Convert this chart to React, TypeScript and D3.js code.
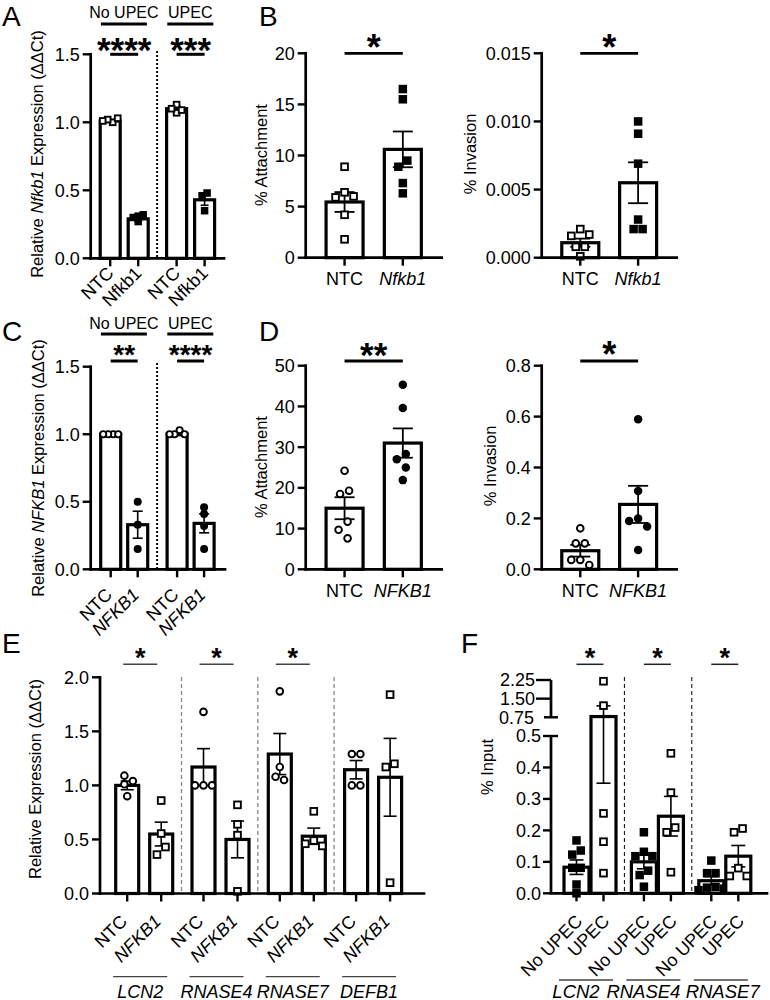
import React from "react";
import * as d3 from "d3";

const FONT = "'Liberation Sans', Arial, Helvetica, sans-serif";

// ---- panel A : Nfkb1 knockdown (mouse) ----
const aGroups = ["No UPEC", "UPEC"];
const aConds = ["NTC", "Nfkb1"];
const aPoints = [
  [1.0, 1.02, 1.03, 1.01],
  [0.27, 0.3, 0.31, 0.32],
  [1.13, 1.07, 1.1, 1.09],
  [0.48, 0.46, 0.35],
];
const aMean = [1.01, 0.29, 1.1, 0.43];
const aSem = [0.01, 0.015, 0.02, 0.04];
const aStars = ["****", "***"];

// ---- panel B : attachment / invasion (mouse) ----
const bConds = ["NTC", "Nfkb1"];
const bAttach = [
  [8.9, 6.4, 5.9, 6.0, 4.2, 1.8],
  [16.5, 15.5, 9.5, 8.9, 7.3, 6.3],
];
const bAttachMean = [5.45, 10.6];
const bAttachSem = [0.97, 1.75];
const bInv = [
  [0.0021, 0.0016, 0.0017, 0.0008, 0.0008, 0.0001],
  [0.01, 0.0091, 0.0069, 0.0028, 0.0021, 0.0021],
];
const bInvMean = [0.0011, 0.0055];
const bInvSem = [0.0003, 0.0015];

// ---- panel C : NFKB1 knockdown (human) ----
const cGroups = ["No UPEC", "UPEC"];
const cConds = ["NTC", "NFKB1"];
const cPoints = [
  [1.0, 1.0, 1.0, 1.0],
  [0.5, 0.33, 0.15],
  [1.03, 1.0, 1.0, 1.0],
  [0.46, 0.41, 0.32, 0.15],
];
const cMean = [1.0, 0.33, 1.0, 0.34];
const cSem = [0.003, 0.1, 0.01, 0.07];
const cStars = ["**", "****"];

// ---- panel D ----
const dConds = ["NTC", "NFKB1"];
const dAttach = [
  [24.2, 19.3, 18.5, 11.7, 9.7, 7.6],
  [45.3, 39.6, 28.3, 27.0, 25.0, 21.9],
];
const dAttachMean = [15.0, 31.0];
const dAttachSem = [2.7, 3.6];
const dInv = [
  [0.161, 0.102, 0.102, 0.037, 0.037, 0.017],
  [0.59, 0.308, 0.2, 0.19, 0.168, 0.076],
];
const dInvMean = [0.073, 0.255];
const dInvSem = [0.023, 0.073];

// ---- panel E : target genes ----
const eGenes = ["LCN2", "RNASE4", "RNASE7", "DEFB1"];
const eConds = ["NTC", "NFKB1"];
const ePoints = [
  [1.04, 1.09, 0.9, 1.01],
  [0.86, 0.555, 0.43, 0.36],
  [1.68, 1.0, 1.0, 1.0],
  [0.82, 0.64, 0.54, 0.02],
  [1.87, 1.17, 1.05, 1.08],
  [0.76, 0.49, 0.46, 0.44],
  [1.29, 1.29, 1.0, 1.0],
  [1.84, 1.2, 1.17, 0.1],
];
const eMean = [1.0, 0.55, 1.17, 0.5, 1.29, 0.53, 1.145, 1.075];
const eSem = [0.04, 0.11, 0.17, 0.17, 0.19, 0.075, 0.085, 0.36];
const eStars = ["*", "*", "*", ""];

// ---- panel F : ChIP % input ----
const fGenes = ["LCN2", "RNASE4", "RNASE7"];
const fConds = ["No UPEC", "UPEC"];
const fPoints = [
  [0.168, 0.136, 0.123, 0.081, 0.081, 0.028, 0.0],
  [2.2, 1.22, 0.254, 0.164, 0.064],
  [0.194, 0.132, 0.118, 0.118, 0.072, 0.058, 0.021],
  [0.445, 0.32, 0.209, 0.194, 0.067],
  [0.104, 0.064, 0.064, 0.02, 0.018, 0.015, 0.01],
  [0.206, 0.194, 0.08, 0.055, 0.055],
];
const fMean = [0.083, 0.78, 0.1, 0.245, 0.04, 0.118];
const fSem = [0.023, 0.43, 0.022, 0.063, 0.013, 0.034];
const fLowTicks = [0, 0.1, 0.2, 0.3, 0.4, 0.5];
const fHighTicks = [0.75, 1.5, 2.25];

const TICK_FS = 18;
const LAB_FS = 18;

// simple beeswarm: spread overlapping points sideways, then centre each row
function swarm(vals, y, d) {
  const py = vals.map(y);
  const off = [];
  vals.forEach((v, i) => {
    const cands = [0, -d, d, -2 * d, 2 * d, -3 * d, 3 * d];
    let pick = cands[cands.length - 1];
    for (const c of cands) {
      let ok = true;
      for (let j = 0; j < i; j++) {
        const dx = c - off[j], dy = py[i] - py[j];
        if (dx * dx + dy * dy < d * d * 0.95) { ok = false; break; }
      }
      if (ok) { pick = c; break; }
    }
    off.push(pick);
  });
  const root = vals.map((_, i) => i);
  const find = (i) => (root[i] === i ? i : (root[i] = find(root[i])));
  for (let i = 0; i < vals.length; i++)
    for (let j = i + 1; j < vals.length; j++)
      if (Math.abs(py[i] - py[j]) < d) root[find(i)] = find(j);
  const groups = d3.group(vals.map((_, i) => i), (i) => find(i));
  groups.forEach((idx) => {
    const m = d3.mean(idx, (i) => off[i]);
    idx.forEach((i) => (off[i] -= m));
  });
  return off;
}

// push labels right so they do not run into each other
function dodge(centers, labels, fs, gap) {
  const out = [];
  centers.forEach((c, i) => {
    const w = labels[i].length * 0.66 * fs;
    let x = c;
    if (i > 0) {
      const prevW = labels[i - 1].length * 0.66 * fs;
      const minX = out[i - 1] + prevW / 2 + gap + w / 2;
      if (x < minX) x = minX;
    }
    out.push(x);
  });
  return out;
}

function Marker({ x, y, k, s }) {
  const filled = k[2] === "f";
  if (k[0] === "s") {
    const w = filled ? s : s - 1.8;
    return <rect x={x - w / 2} y={y - w / 2} width={w} height={w} fill={filled ? "#000" : "#fff"} stroke="#000" strokeWidth={filled ? 0 : 1.9} />;
  }
  const r = filled ? s / 2 : (s - 1.8) / 2;
  return <circle cx={x} cy={y} r={r} fill={filled ? "#000" : "#fff"} stroke="#000" strokeWidth={filled ? 0 : 1.9} />;
}

function Bars({ cx, y, mean, sem, pts, mk, bw, cap, ms, d, ew = 1.6 }) {
  const y0 = y(0);
  return (
    <g>
      {cx.map((c, i) => {
        const off = swarm(pts[i], y, d);
        const yt = y(mean[i] + sem[i]), yb = y(Math.max(0, mean[i] - sem[i]));
        return (
          <g key={i}>
            <rect x={c - bw / 2} y={y(mean[i])} width={bw} height={y0 - y(mean[i])} fill="#fff" stroke="#000" strokeWidth={3.2} />
            <line x1={c} x2={c} y1={yt} y2={yb} stroke="#000" strokeWidth={ew} />
            <line x1={c - cap / 2} x2={c + cap / 2} y1={yt} y2={yt} stroke="#000" strokeWidth={ew} />
            <line x1={c - cap / 2} x2={c + cap / 2} y1={yb} y2={yb} stroke="#000" strokeWidth={ew} />
            {pts[i].map((v, j) => (
              <Marker key={j} x={c + off[j]} y={y(v)} k={mk[i]} s={ms} />
            ))}
          </g>
        );
      })}
    </g>
  );
}

function YAxis({ x, y, ticks, fmt, fs = TICK_FS }) {
  const ys = ticks.map(y);
  return (
    <g>
      <line x1={x} x2={x} y1={d3.max(ys)} y2={d3.min(ys)} stroke="#000" strokeWidth={2.7} strokeLinecap="square" />
      {ticks.map((t, i) => (
        <g key={i}>
          <line x1={x - 8} x2={x} y1={ys[i]} y2={ys[i]} stroke="#000" strokeWidth={2.4} />
          <text x={x - 11} y={ys[i]} dy="0.36em" textAnchor="end" fontSize={fs}>{fmt(t)}</text>
        </g>
      ))}
    </g>
  );
}

function XAxis({ x0, x1, y0, ticks }) {
  return (
    <g>
      <line x1={x0} x2={x1} y1={y0} y2={y0} stroke="#000" strokeWidth={2.7} strokeLinecap="square" />
      {ticks.map((c, i) => (
        <line key={i} x1={c} x2={c} y1={y0} y2={y0 + 8} stroke="#000" strokeWidth={2.4} />
      ))}
    </g>
  );
}

function Sig({ x1, x2, y, sy, label, fs, sw = 2.8, color = "#000" }) {
  return (
    <g>
      <line x1={x1} x2={x2} y1={y} y2={y} stroke={color} strokeWidth={sw} />
      <text x={(x1 + x2) / 2} y={sy + 0.57 * fs} textAnchor="middle" fontSize={fs} fontWeight="bold">{label}</text>
    </g>
  );
}

function RotLabel({ x, y, text, italic = false, fs = LAB_FS }) {
  return (
    <text transform={`translate(${x},${y}) rotate(-45)`} textAnchor="end" fontSize={fs} fontStyle={italic ? "italic" : "normal"}>{text}</text>
  );
}

function YLabel({ x, y, children, fs = 16.5 }) {
  return (
    <text transform={`translate(${x},${y}) rotate(-90)`} textAnchor="middle" fontSize={fs}>{children}</text>
  );
}

function Letter({ x, y, t }) {
  return <text x={x} y={y} fontSize={28}>{t}</text>;
}

export default function App() {
  const f1 = d3.format(".1f");
  const f2 = d3.format(".2f");
  const f3 = d3.format(".3f");
  const f0 = d3.format("d");

  // A
  const yA = d3.scaleLinear().domain([0, 1.5]).range([258.3, 54.3]);
  const gA = d3.scaleBand().domain(aGroups).range([90.7, 223.5]);
  const iA = d3.scalePoint().domain(aConds).range([19.5, 47.5]);
  const cxA = aGroups.flatMap((g) => aConds.map((c) => gA(g) + iA(c)));

  // B
  const yBl = d3.scaleLinear().domain([0, 20]).range([257.7, 53.3]);
  const yBr = d3.scaleLinear().domain([0, 0.015]).range([257.7, 53.3]);
  const xBl = d3.scalePoint().domain(bConds).range([305.7, 441.7]).padding(0.667);
  const xBr = d3.scalePoint().domain(bConds).range([541.7, 676.7]).padding(0.667);

  // C
  const yC = d3.scaleLinear().domain([0, 1.5]).range([569.3, 366.7]);
  const gC = d3.scaleBand().domain(cGroups).range([90.7, 223.5]);
  const iC = d3.scalePoint().domain(cConds).range([20, 47]);
  const cxC = cGroups.flatMap((g) => cConds.map((c) => gC(g) + iC(c)));

  // D
  const yDl = d3.scaleLinear().domain([0, 50]).range([569.3, 365.7]);
  const yDr = d3.scaleLinear().domain([0, 0.8]).range([569.3, 365.7]);
  const xDl = d3.scalePoint().domain(dConds).range([305.7, 441.7]).padding(0.667);
  const xDr = d3.scalePoint().domain(dConds).range([541.7, 676.7]).padding(0.667);

  // E
  const yE = d3.scaleLinear().domain([0, 2]).range([893.5, 677.3]);
  const gE = d3.scaleBand().domain(eGenes).range([105.2, 410.4]);
  const iE = d3.scalePoint().domain(eConds).range([22, 56]);
  const cxE = eGenes.flatMap((g) => eConds.map((c) => gE(g) + iE(c)));

  // F (broken axis)
  const yF = d3.scaleLinear().domain([0, 0.5, 0.75, 2.25]).range([893.3, 736, 717.3, 680]);
  const gF = d3.scaleBand().domain(fGenes).range([557, 759.2]);
  const iF = d3.scalePoint().domain(fConds).range([19.5, 46.5]);
  const cxF = fGenes.flatMap((g) => fConds.map((c) => gF(g) + iF(c)));
  const axF = 551;
  const fLineMid = fGenes.map((g, i) => (cxF[2 * i] + cxF[2 * i + 1]) / 2 - 4);
  const fTextX = dodge(fLineMid.map((m) => m - 10), fGenes, 18.5, 6);

  return (
    <svg width={770} height={1000} style={{ position: "absolute", left: 0, top: 0 }} fontFamily={FONT}>
      <rect width={770} height={1000} fill="#fff" />

      {/* ===== A ===== */}
      <Letter x={2} y={26} t="A" />
      {aGroups.map((g, i) => {
        const m = gA(g) + gA.bandwidth() / 2;
        return (
          <g key={g}>
            <text x={m} y={18} textAnchor="middle" fontSize={16}>{g}</text>
            <line x1={m - 23} x2={m + 23} y1={24} y2={24} stroke="#000" strokeWidth={3} />
            <Sig x1={cxA[2 * i]} x2={cxA[2 * i + 1]} y={54.3} sy={41.7} label={aStars[i]} fs={35} sw={3} />
          </g>
        );
      })}
      <line x1={gA("UPEC")} x2={gA("UPEC")} y1={51} y2={258} stroke="#000" strokeWidth={2} strokeDasharray="2,2" />
      <Bars cx={cxA} y={yA} mean={aMean} sem={aSem} pts={aPoints} mk={["sqo", "sqf", "sqo", "sqf"]} bw={20} cap={8} ms={7.5} d={5} />
      <YAxis x={90.7} y={yA} ticks={[0, 0.5, 1, 1.5]} fmt={f1} />
      <XAxis x0={90.7} x1={224} y0={yA(0)} ticks={cxA} />
      {cxA.map((c, i) => (
        <RotLabel key={i} x={c + 4.5} y={yA(0) + 16} text={aConds[i % 2]} />
      ))}
      <YLabel x={43} y={154}>
        Relative <tspan fontStyle="italic">Nfkb1</tspan> Expression (ΔΔCt)
      </YLabel>

      {/* ===== B ===== */}
      <Letter x={259} y={26} t="B" />
      <Bars cx={bConds.map((c) => xBl(c))} y={yBl} mean={bAttachMean} sem={bAttachSem} pts={bAttach} mk={["sqo", "sqf"]} bw={37} cap={20} ms={8.5} d={9} ew={1.8} />
      <YAxis x={305.7} y={yBl} ticks={[0, 5, 10, 15, 20]} fmt={f0} />
      <XAxis x0={305.7} x1={441.7} y0={yBl(0)} ticks={bConds.map((c) => xBl(c))} />
      <Sig x1={xBl("NTC")} x2={xBl("Nfkb1")} y={53.3} sy={39.3} label="*" fs={36} />
      <YLabel x={267} y={155}>% Attachment</YLabel>
      {bConds.map((c, i) => (
        <text key={c} x={xBl(c)} y={285} textAnchor="middle" fontSize={LAB_FS} fontStyle={i ? "italic" : "normal"}>{c}</text>
      ))}

      <Bars cx={bConds.map((c) => xBr(c))} y={yBr} mean={bInvMean} sem={bInvSem} pts={bInv} mk={["sqo", "sqf"]} bw={37} cap={20} ms={8.5} d={9} ew={1.8} />
      <YAxis x={541.7} y={yBr} ticks={[0, 0.005, 0.01, 0.015]} fmt={f3} />
      <XAxis x0={541.7} x1={676.7} y0={yBr(0)} ticks={bConds.map((c) => xBr(c))} />
      <Sig x1={xBr("NTC")} x2={xBr("Nfkb1")} y={53.3} sy={39.3} label="*" fs={36} />
      <YLabel x={476} y={154}>% Invasion</YLabel>
      {bConds.map((c, i) => (
        <text key={c} x={xBr(c)} y={285} textAnchor="middle" fontSize={LAB_FS} fontStyle={i ? "italic" : "normal"}>{c}</text>
      ))}

      {/* ===== C ===== */}
      <Letter x={2} y={341} t="C" />
      {cGroups.map((g, i) => {
        const m = gC(g) + gC.bandwidth() / 2;
        return (
          <g key={g}>
            <text x={m} y={328.5} textAnchor="middle" fontSize={16}>{g}</text>
            <line x1={m - 23} x2={m + 23} y1={334} y2={334} stroke="#000" strokeWidth={3} />
            <Sig x1={cxC[2 * i]} x2={cxC[2 * i + 1]} y={361} sy={348.3} label={cStars[i]} fs={28} sw={3} />
          </g>
        );
      })}
      <line x1={gC("UPEC")} x2={gC("UPEC")} y1={363} y2={569} stroke="#000" strokeWidth={2} strokeDasharray="2,2" />
      <Bars cx={cxC} y={yC} mean={cMean} sem={cSem} pts={cPoints} mk={["cio", "cif", "cio", "cif"]} bw={20} cap={10} ms={8} d={5} />
      <YAxis x={90.7} y={yC} ticks={[0, 0.5, 1, 1.5]} fmt={f1} />
      <XAxis x0={90.7} x1={225} y0={yC(0)} ticks={cxC} />
      {cxC.map((c, i) => (
        <RotLabel key={i} x={c + 2.5} y={yC(0) + 26.5} text={cConds[i % 2]} italic={i % 2 === 1} />
      ))}
      <YLabel x={43.5} y={468}>
        Relative <tspan fontStyle="italic">NFKB1</tspan> Expression (ΔΔCt)
      </YLabel>

      {/* ===== D ===== */}
      <Letter x={259} y={341} t="D" />
      <Bars cx={dConds.map((c) => xDl(c))} y={yDl} mean={dAttachMean} sem={dAttachSem} pts={dAttach} mk={["cio", "cif"]} bw={37} cap={20} ms={8.5} d={9} ew={1.8} />
      <YAxis x={305.7} y={yDl} ticks={[0, 10, 20, 30, 40, 50]} fmt={f0} />
      <XAxis x0={305.7} x1={441.7} y0={yDl(0)} ticks={dConds.map((c) => xDl(c))} />
      <Sig x1={xDl("NTC")} x2={xDl("NFKB1")} y={361} sy={346.7} label="**" fs={35} />
      <YLabel x={267} y={467}>% Attachment</YLabel>
      {dConds.map((c, i) => (
        <text key={c} x={xDl(c)} y={597} textAnchor="middle" fontSize={LAB_FS} fontStyle={i ? "italic" : "normal"}>{c}</text>
      ))}

      <Bars cx={dConds.map((c) => xDr(c))} y={yDr} mean={dInvMean} sem={dInvSem} pts={dInv} mk={["cio", "cif"]} bw={37} cap={20} ms={8.5} d={9} ew={1.8} />
      <YAxis x={541.7} y={yDr} ticks={[0, 0.2, 0.4, 0.6, 0.8]} fmt={f1} />
      <XAxis x0={541.7} x1={676.7} y0={yDr(0)} ticks={dConds.map((c) => xDr(c))} />
      <Sig x1={xDr("NTC")} x2={xDr("NFKB1")} y={361} sy={346.7} label="*" fs={36} />
      <YLabel x={496} y={466}>% Invasion</YLabel>
      {dConds.map((c, i) => (
        <text key={c} x={xDr(c)} y={597} textAnchor="middle" fontSize={LAB_FS} fontStyle={i ? "italic" : "normal"}>{c}</text>
      ))}

      {/* ===== E ===== */}
      <Letter x={2} y={653} t="E" />
      {eGenes.slice(1).map((g) => (
        <line key={g} x1={gE(g)} x2={gE(g)} y1={677} y2={893} stroke="#888" strokeWidth={1.3} strokeDasharray="4,3" />
      ))}
      {eGenes.map((g, i) =>
        eStars[i] ? (
          <Sig key={g} x1={cxE[2 * i] - 4} x2={cxE[2 * i + 1] - 4} y={664.3} sy={651.7} label={eStars[i]} fs={27} sw={1.5} color="#444" />
        ) : null
      )}
      <Bars cx={cxE} y={yE} mean={eMean} sem={eSem} pts={ePoints} mk={["cio", "sqo", "cio", "sqo", "cio", "sqo", "cio", "sqo"]} bw={23} cap={13} ms={8.5} d={8.5} />
      <YAxis x={100} y={yE} ticks={[0, 0.5, 1, 1.5, 2]} fmt={f1} />
      <XAxis x0={100} x1={424} y0={yE(0)} ticks={cxE} />
      {cxE.map((c, i) => (
        <RotLabel key={i} x={c + 1} y={yE(0) + 29} text={eConds[i % 2]} italic={i % 2 === 1} />
      ))}
      <YLabel x={40.5} y={779}>Relative Expression (ΔΔCt)</YLabel>
      {eGenes.map((g, i) => {
        const m = (cxE[2 * i] + cxE[2 * i + 1]) / 2 - 4;
        return (
          <g key={g}>
            <line x1={m - 27} x2={m + 27} y1={976.7} y2={976.7} stroke="#444" strokeWidth={1.3} />
            <text x={m} y={997.5} textAnchor="middle" fontSize={18} fontStyle="italic">{g}</text>
          </g>
        );
      })}

      {/* ===== F ===== */}
      <Letter x={461} y={653} t="F" />
      {fGenes.slice(1).map((g) => (
        <line key={g} x1={gF(g)} x2={gF(g)} y1={677} y2={893} stroke="#000" strokeWidth={1} strokeDasharray="4,3" />
      ))}
      {fGenes.map((g, i) => (
        <Sig key={g} x1={cxF[2 * i]} x2={cxF[2 * i + 1]} y={664.3} sy={651.7} label="*" fs={27} sw={1.5} color="#222" />
      ))}
      <Bars cx={cxF} y={yF} mean={fMean} sem={fSem} pts={fPoints} mk={["sqf", "sqo", "sqf", "sqo", "sqf", "sqo"]} bw={25} cap={14} ms={8.5} d={8.5} />
      <g>
        <line x1={axF} x2={axF} y1={yF(0)} y2={yF(0.5)} stroke="#000" strokeWidth={2.7} />
        <line x1={axF} x2={axF} y1={yF(0.75)} y2={yF(2.25)} stroke="#000" strokeWidth={2.7} />
        {fLowTicks.map((t) => (
          <g key={t}>
            <line x1={axF - 8} x2={t === 0.5 ? axF + 7 : axF} y1={yF(t)} y2={yF(t)} stroke="#000" strokeWidth={2.4} />
            <text x={axF - 10} y={yF(t)} dy="0.36em" textAnchor="end" fontSize={TICK_FS}>{f1(t)}</text>
          </g>
        ))}
        {fHighTicks.map((t) => (
          <g key={t}>
            <line x1={t === 0.75 ? axF - 7 : axF - 15} x2={t === 0.75 ? axF + 7 : axF} y1={yF(t)} y2={yF(t)} stroke="#000" strokeWidth={2.4} />
            <text x={t === 0.75 ? axF - 17 : axF - 16} y={yF(t)} dy="0.36em" textAnchor="end" fontSize={TICK_FS}>{f2(t)}</text>
          </g>
        ))}
      </g>
      <XAxis x0={axF} x1={767} y0={yF(0)} ticks={cxF} />
      {cxF.map((c, i) => (
        <RotLabel key={i} x={c + 7} y={yF(0) + 29} text={fConds[i % 2]} />
      ))}
      <YLabel x={493} y={767}>% Input</YLabel>
      {fGenes.map((g, i) => (
        <g key={g}>
          <line x1={fLineMid[i] - 27} x2={fLineMid[i] + 27} y1={980} y2={980} stroke="#444" strokeWidth={1.3} />
          <text x={fTextX[i]} y={997.5} textAnchor="middle" fontSize={18.5} fontStyle="italic">{g}</text>
        </g>
      ))}
    </svg>
  );
}
